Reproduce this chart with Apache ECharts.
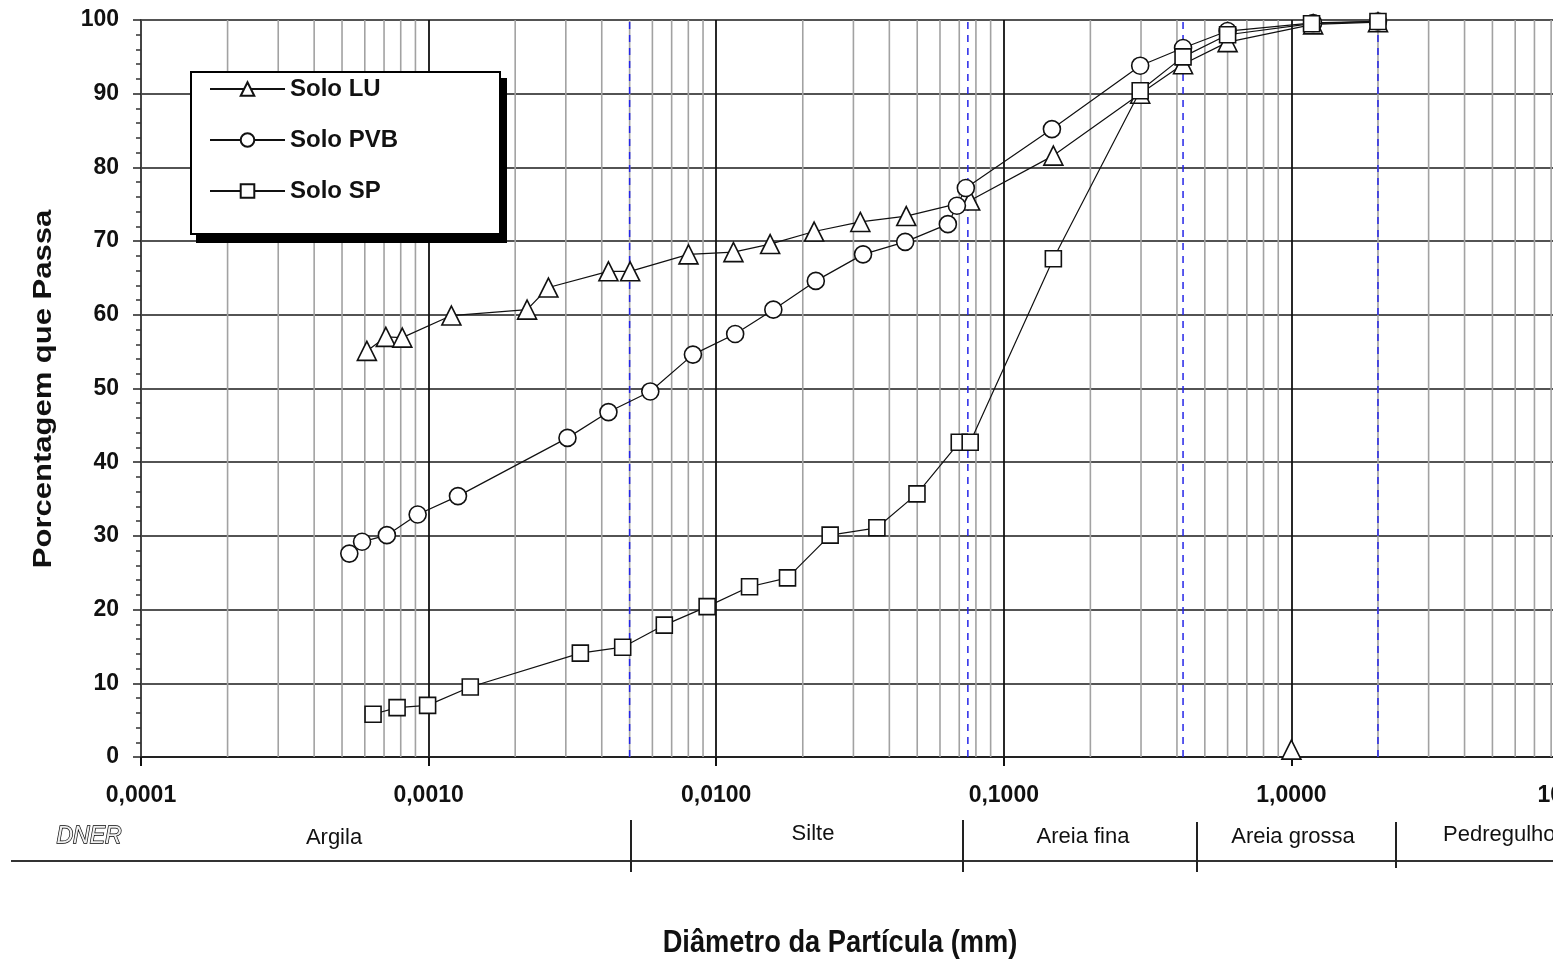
<!DOCTYPE html>
<html>
<head>
<meta charset="utf-8">
<title>Curvas granulométricas</title>
<script src="https://cdn.jsdelivr.net/npm/echarts@6/dist/echarts.min.js"></script>
<style>
  html, body { margin: 0; padding: 0; background: #ffffff; }
  #chart { width: 1553px; height: 960px; }
</style>
</head>
<body>
<div id="chart"></div>
<script>
// Particle diameters (mm) and percentage passing for each soil
const luDiameter  = [0.00061, 0.00071, 0.00081, 0.00120, 0.00220, 0.00261, 0.00422, 0.00502, 0.00801, 0.01148, 0.0154, 0.0219, 0.0317, 0.0458, 0.0764, 0.1487, 0.298, 0.42, 0.60, 1.19, 2.0];
const luPassing   = [55.1, 57.0, 56.9, 59.9, 60.7, 63.7, 65.9, 65.9, 68.2, 68.5, 69.6, 71.3, 72.6, 73.4, 75.5, 81.6, 90.0, 94.0, 97.0, 99.4, 99.7];
const luLoneDiameter = [1.0];
const luLonePassing  = [1.0];

const pvbDiameter = [0.00053, 0.000587, 0.000716, 0.000916, 0.001265, 0.00304, 0.00422, 0.0059, 0.0083, 0.01164, 0.0158, 0.0222, 0.0324, 0.0454, 0.0639, 0.0687, 0.0738, 0.147, 0.298, 0.42, 0.60, 1.19, 2.0];
const pvbPassing  = [27.6, 29.2, 30.1, 32.9, 35.4, 43.3, 46.8, 49.6, 54.6, 57.4, 60.7, 64.6, 68.2, 69.9, 72.3, 74.8, 77.2, 85.2, 93.8, 96.2, 98.5, 99.6, 99.8];

const spDiameter  = [0.000641, 0.000777, 0.000992, 0.001396, 0.00337, 0.00473, 0.0066, 0.0093, 0.01306, 0.0177, 0.0249, 0.0362, 0.0499, 0.0700, 0.0764, 0.1487, 0.298, 0.42, 0.60, 1.175, 2.0];
const spPassing   = [5.8, 6.7, 7.0, 9.5, 14.1, 14.9, 17.9, 20.4, 23.1, 24.3, 30.1, 31.1, 35.7, 42.7, 42.7, 67.6, 90.4, 95.0, 98.0, 99.5, 99.8];

const seriesNames = ['Solo LU', 'Solo PVB', 'Solo SP'];

// DNER size limits (mm) shown as blue dashed guides
const dnerLimits = [0.005, 0.075, 0.42, 2.0];

// DNER classification strip under the axis
const dnerClasses = ['Argila', 'Silte', 'Areia fina', 'Areia grossa', 'Pedregulho'];

const FONT = '"Liberation Sans", Arial, Helvetica, sans-serif';

function pairs(xs, ys) { return xs.map((x, i) => [x, ys[i]]); }

// gray gridlines at 2..9 within each decade
const minorGrid = [];
for (let d = -4; d <= 0; d++) {
  for (let k = 2; k <= 9; k++) {
    minorGrid.push(k * Math.pow(10, d));
  }
}

// a full-height vertical rule at diameter v, drawn on the chart's own axes
function verticalRule(v, lineStyle, z) {
  return {
    type: 'line',
    data: [[v, 0], [v, 100]],
    symbol: 'none',
    silent: true,
    lineStyle: lineStyle,
    z: z,
    tooltip: { show: false }
  };
}

const markerStyle = { color: '#ffffff', borderColor: '#111111', borderWidth: 1.6, opacity: 1 };
const curveStyle = { color: '#111111', width: 1.2 };

const chart = echarts.init(document.getElementById('chart'), null, { renderer: 'canvas' });

const gridRules = minorGrid.map(v => verticalRule(v, { color: '#a2a2a2', width: 1.6 }, 1));
const limitRules = dnerLimits.map(v => verticalRule(v, { color: '#2424e8', width: 1.5, type: [7, 6] }, 2));

const bandText = (text, x, y, align) => ({
  type: 'text', x: x, y: y,
  style: { text: text, font: '22px ' + FONT, fill: '#111',
           align: align, verticalAlign: 'middle', textAlign: align, textVerticalAlign: 'middle' }
});

chart.setOption({
  animation: false,
  backgroundColor: '#ffffff',
  grid: { left: 141, top: 20, width: 1438, height: 737, containLabel: false, outerBoundsMode: 'none' },
  xAxis: {
    type: 'log',
    logBase: 10,
    min: 0.0001,
    max: 10,
    splitNumber: 5,
    axisLine: { show: true, onZero: false, lineStyle: { color: '#222', width: 2 } },
    axisTick: { show: true, inside: false, length: 9, lineStyle: { color: '#111', width: 2 } },
    splitLine: { show: true, lineStyle: { color: '#111', width: 1.8 } },
    axisLabel: {
      margin: 27,
      fontSize: 23,
      fontWeight: 'bold',
      fontFamily: FONT,
      color: '#111',
      formatter: v => Number(v).toFixed(4).replace('.', ',')
    }
  },
  yAxis: {
    type: 'value',
    min: 0,
    max: 100,
    interval: 10,
    axisLine: { show: true, lineStyle: { color: '#444', width: 2 } },
    axisTick: { show: true, inside: false, length: 8, lineStyle: { color: '#222', width: 1.5 } },
    minorTick: { show: true, splitNumber: 5, length: 5, lineStyle: { color: '#333', width: 1.5 } },
    splitLine: { show: true, lineStyle: { color: '#1a1a1a', width: 1.6 } },
    axisLabel: { margin: 22, fontSize: 23, fontWeight: 'bold', fontFamily: FONT, color: '#111' }
  },
  legend: {
    data: seriesNames,
    orient: 'vertical',
    left: 191,
    top: 72,
    itemWidth: 75,
    itemHeight: 17,
    itemGap: 25,
    padding: [4, 102, 30, 18],
    backgroundColor: '#ffffff',
    borderColor: '#000000',
    borderWidth: 2,
    borderRadius: 0,
    selectedMode: false,
    z: 10,
    textStyle: { fontSize: 24, fontWeight: 'bold', fontFamily: FONT, color: '#111', lineHeight: 26 }
  },
  series: gridRules.concat(limitRules, [
    {
      type: 'line',
      name: seriesNames[0],
      data: pairs(luDiameter, luPassing),
      symbol: 'triangle',
      symbolSize: 19,
      showAllSymbol: true,
      lineStyle: curveStyle,
      itemStyle: markerStyle,
      z: 3
    },
    {
      type: 'scatter',
      name: 'Solo LU (1 mm)',
      data: pairs(luLoneDiameter, luLonePassing),
      symbol: 'triangle',
      symbolSize: 19,
      itemStyle: markerStyle,
      z: 3
    },
    {
      type: 'line',
      name: seriesNames[1],
      data: pairs(pvbDiameter, pvbPassing),
      symbol: 'circle',
      symbolSize: 17,
      showAllSymbol: true,
      lineStyle: curveStyle,
      itemStyle: markerStyle,
      z: 4
    },
    {
      type: 'line',
      name: seriesNames[2],
      data: pairs(spDiameter, spPassing),
      symbol: 'rect',
      symbolSize: 16,
      showAllSymbol: true,
      lineStyle: curveStyle,
      itemStyle: markerStyle,
      z: 5
    }
  ]),
  graphic: [
    // solid drop shadow behind the legend box
    { type: 'rect', z: 9, shape: { x: 196, y: 78, width: 311, height: 165 }, style: { fill: '#000' } },
    // axis titles
    {
      type: 'text', x: 44, y: 389, rotation: Math.PI / 2, scaleX: 1.24,
      style: { text: 'Porcentagem que Passa', font: 'bold 25px ' + FONT, fill: '#111',
               align: 'center', verticalAlign: 'middle', textAlign: 'center', textVerticalAlign: 'middle' }
    },
    {
      type: 'text', x: 840, y: 943, scaleX: 0.88,
      style: { text: 'Diâmetro da Partícula (mm)', font: 'bold 31px ' + FONT, fill: '#111',
               align: 'center', verticalAlign: 'middle', textAlign: 'center', textVerticalAlign: 'middle' }
    },
    // DNER classification strip
    { type: 'line', shape: { x1: 11, y1: 861, x2: 1553, y2: 861 }, style: { stroke: '#333', lineWidth: 2 } },
    { type: 'line', shape: { x1: 631, y1: 820, x2: 631, y2: 872 }, style: { stroke: '#222', lineWidth: 2 } },
    { type: 'line', shape: { x1: 963, y1: 820, x2: 963, y2: 872 }, style: { stroke: '#222', lineWidth: 2 } },
    { type: 'line', shape: { x1: 1197, y1: 822, x2: 1197, y2: 872 }, style: { stroke: '#222', lineWidth: 2 } },
    { type: 'line', shape: { x1: 1396, y1: 822, x2: 1396, y2: 868 }, style: { stroke: '#222', lineWidth: 2 } },
    {
      type: 'text', x: 89, y: 837,
      style: { text: 'DNER', font: 'italic 23px ' + FONT, fill: '#f0f0f0', stroke: '#000', lineWidth: 1.4,
               align: 'center', verticalAlign: 'middle', textAlign: 'center', textVerticalAlign: 'middle' }
    },
    bandText(dnerClasses[0], 334, 838, 'center'),
    bandText(dnerClasses[1], 813, 834, 'center'),
    bandText(dnerClasses[2], 1083, 837, 'center'),
    bandText(dnerClasses[3], 1293, 837, 'center'),
    bandText(dnerClasses[4], 1443, 835, 'left')
  ]
});
</script>
</body>
</html>
